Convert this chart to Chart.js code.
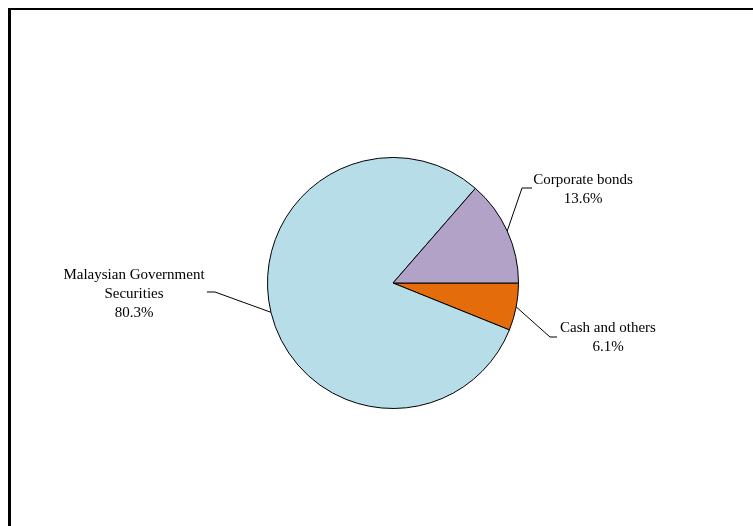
<!DOCTYPE html>
<html>
<head>
<meta charset="utf-8">
<script src="https://cdn.jsdelivr.net/npm/chart.js@4"></script>
<style>
  body { margin: 0; background: #fff; }
  #wrap { width: 753px; height: 526px; position: relative; }
</style>
</head>
<body>
<div id="wrap"><canvas id="pieChart"></canvas></div>
<script>
const categories = ["Cash and others", "Malaysian Government Securities", "Corporate bonds"];
const shares = [6.1, 80.3, 13.6];
const labelLines = [
  ["Cash and others", "6.1%"],
  ["Malaysian Government", "Securities", "80.3%"],
  ["Corporate bonds", "13.6%"]
];
const sliceColors = ["#E46C0A", "#B7DEE8", "#B2A2C7"];

// leader line elbow, end of horizontal tick, and text centre for each slice
const labelLayout = [
  { elbow: [550, 337], end: [557, 337], text: [608, 328] },
  { elbow: [215, 292], end: [207, 292], text: [134, 275] },
  { elbow: [522, 188], end: [532, 188], text: [583, 180] }
];

const frame = {
  id: "frame",
  beforeDraw(chart) {
    const c = chart.ctx;
    c.save();
    c.fillStyle = "#000";
    c.fillRect(8, 8, 3, 600);
    c.fillRect(8, 8, 800, 2);
    c.restore();
  }
};

const leaderLabels = {
  id: "leaderLabels",
  afterDatasetsDraw(chart) {
    const c = chart.ctx;
    const arcs = chart.getDatasetMeta(0).data;
    c.save();
    c.strokeStyle = "#000";
    c.lineWidth = 1;
    c.fillStyle = "#000";
    c.font = "15px 'Liberation Serif', 'Times New Roman', serif";
    c.textBaseline = "middle";
    c.textAlign = "center";
    arcs.forEach((arc, i) => {
      const mid = (arc.startAngle + arc.endAngle) / 2;
      const x0 = arc.x + Math.cos(mid) * arc.outerRadius;
      const y0 = arc.y + Math.sin(mid) * arc.outerRadius;
      const lay = labelLayout[i];
      c.beginPath();
      c.moveTo(x0, y0);
      c.lineTo(lay.elbow[0], lay.elbow[1]);
      c.lineTo(lay.end[0], lay.end[1]);
      c.stroke();
      labelLines[i].forEach((line, k) => {
        c.fillText(line, lay.text[0], lay.text[1] + k * 19);
      });
    });
    c.restore();
  }
};

new Chart(document.getElementById("pieChart"), {
  type: "pie",
  data: {
    labels: categories,
    datasets: [{
      data: shares,
      backgroundColor: sliceColors,
      borderColor: "#000",
      borderWidth: 1
    }]
  },
  options: {
    responsive: true,
    maintainAspectRatio: false,
    animation: false,
    rotation: 90,
    layout: {
      padding: { left: 267, right: 234, top: 157, bottom: 117 }
    },
    plugins: {
      legend: { display: false },
      tooltip: { enabled: false }
    }
  },
  plugins: [frame, leaderLabels]
});
</script>
</body>
</html>
